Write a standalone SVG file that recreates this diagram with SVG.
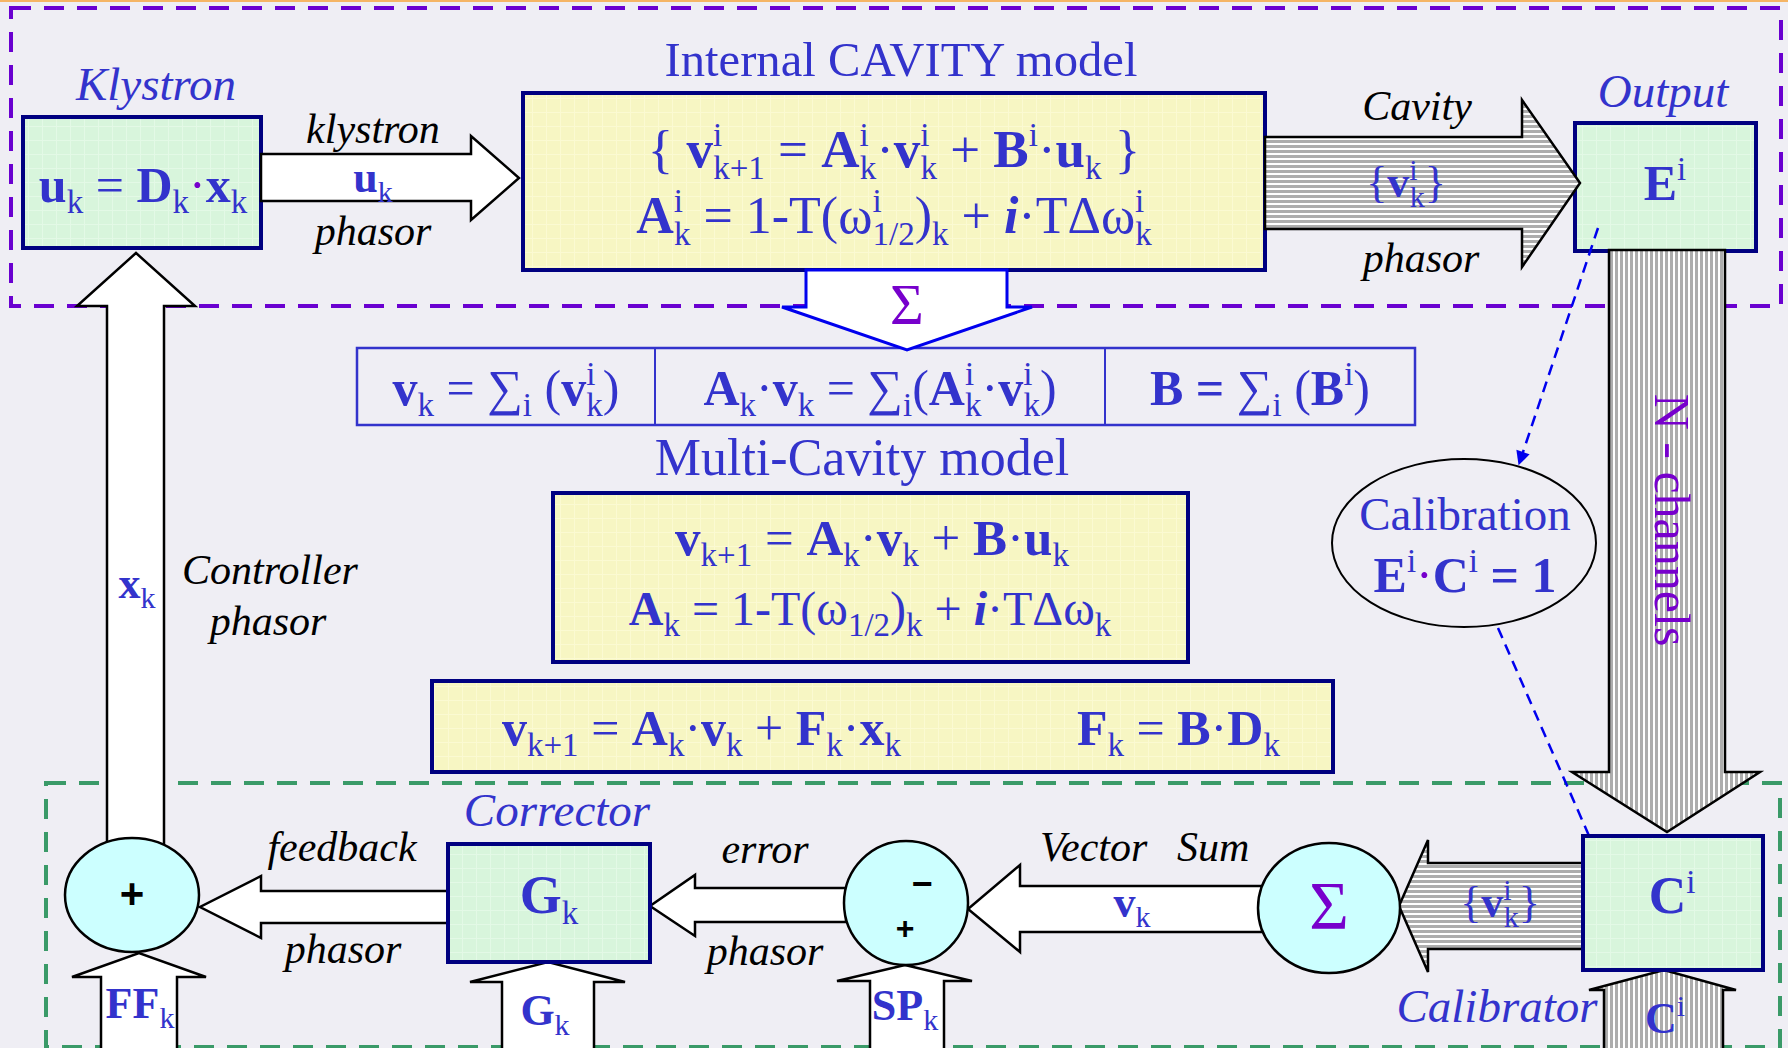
<svg xmlns="http://www.w3.org/2000/svg" width="1788" height="1048" viewBox="0 0 1788 1048">
<style>
.e{font-family:"Liberation Serif","Times New Roman",serif;fill:#3333cc;font-size:50px}
.e44{font-family:"Liberation Serif","Times New Roman",serif;fill:#3333cc;font-size:44px}
.b{font-weight:bold}
.s{font-size:33px;font-weight:normal}
.s2{font-size:30px;font-weight:normal}
.bi{font-weight:bold;font-style:italic}
.hdr{font-family:"Liberation Serif","Times New Roman",serif;font-style:italic;font-size:47px;fill:#3333cc}
.lbl{font-family:"Liberation Serif","Times New Roman",serif;font-style:italic;font-size:42px;fill:#000}
.ttl{font-family:"Liberation Serif","Times New Roman",serif;fill:#3333cc}
.box{stroke:#000080;stroke-width:4}
.circ{fill:#ccffff;stroke:#000;stroke-width:2.5}
.arr{fill:#fff;stroke:#000;stroke-width:2.5;stroke-linejoin:miter}
.harr{fill:url(#hs);stroke:#000;stroke-width:2.5}
.varr{fill:url(#vs);stroke:#000;stroke-width:2.5}
.sgn{font-family:"Liberation Sans",Arial,sans-serif;font-weight:bold;fill:#000}
.pu{fill:#7700cc}
</style>
<defs>
<pattern id="gg" width="14" height="14" patternUnits="userSpaceOnUse"><rect width="14" height="14" fill="#d8f5dc"/><path d="M0 0.5H14M0.5 0V14" stroke="#e3f9e6" stroke-width="1"/></pattern>
<pattern id="gy" width="14" height="14" patternUnits="userSpaceOnUse"><rect width="14" height="14" fill="#f7f6c3"/><path d="M0 0.5H14M0.5 0V14" stroke="#fbfad2" stroke-width="1"/></pattern>
<pattern id="hs" width="10" height="5" patternUnits="userSpaceOnUse"><rect width="10" height="5" fill="#ffffff"/><rect width="10" height="3" fill="#adadad"/></pattern>
<pattern id="vs" width="5" height="10" patternUnits="userSpaceOnUse"><rect width="5" height="10" fill="#ffffff"/><rect width="3" height="10" fill="#adadad"/></pattern>
<marker id="ah" viewBox="0 0 10 10" refX="9" refY="5" markerWidth="16" markerHeight="14" markerUnits="userSpaceOnUse" orient="auto"><path d="M0,0 L10,5 L0,10 z" fill="#0000ee"/></marker>
<marker id="ah2" viewBox="0 0 10 10" refX="9" refY="5" markerWidth="12" markerHeight="12" markerUnits="userSpaceOnUse" orient="auto"><path d="M0,0 L10,5 L0,10 z" fill="#6a8ae0"/></marker>
</defs>
<rect width="1788" height="1048" fill="#efeef4"/>
<rect x="0" y="0" width="1788" height="2" fill="#f5b565"/>

<g id="regions">
<rect x="11" y="8" width="1770" height="298" fill="none" stroke="#6a00d0" stroke-width="4" stroke-dasharray="20 13"/>
<rect x="46" y="783" width="1734" height="264" fill="none" stroke="#3a9a68" stroke-width="4" stroke-dasharray="20 13"/>
</g>

<g id="klystron">
<text class="hdr" x="156" y="100" text-anchor="middle">Klystron</text>
<rect class="box" x="23" y="117" width="238" height="131" fill="url(#gg)"/>
<text class="e" x="143" y="202" text-anchor="middle"><tspan class="b">u</tspan><tspan class="s" dy="11">k</tspan><tspan dy="-11"> = </tspan><tspan class="b">D</tspan><tspan class="s" dy="11">k</tspan><tspan dy="-11" class="pu">·</tspan><tspan class="b">x</tspan><tspan class="s" dy="11">k</tspan></text>
</g>

<g id="cavity">
<text class="ttl" x="901" y="76" font-size="48" text-anchor="middle" textLength="473" lengthAdjust="spacingAndGlyphs">Internal CAVITY model</text>
<rect class="box" x="523" y="93" width="742" height="177" fill="url(#gy)"/>
<text class="e" x="894" y="167" style="font-size:53px" text-anchor="middle">{ <tspan class="b">v</tspan><tspan class="s" dy="-21">i</tspan><tspan class="s" dx="-9" dy="33">k+1</tspan><tspan dy="-12"> = </tspan><tspan class="b">A</tspan><tspan class="s" dy="-21">i</tspan><tspan class="s" dx="-9" dy="33">k</tspan><tspan dy="-12">·</tspan><tspan class="b">v</tspan><tspan class="s" dy="-21">i</tspan><tspan class="s" dx="-9" dy="33">k</tspan><tspan dy="-12"> + </tspan><tspan class="b">B</tspan><tspan class="s" dy="-21">i</tspan><tspan dy="21">·</tspan><tspan class="b">u</tspan><tspan class="s" dy="12">k</tspan><tspan dy="-12"> }</tspan></text>
<text class="e" x="894" y="233" style="font-size:52px" text-anchor="middle"><tspan class="b">A</tspan><tspan class="s" dy="-21">i</tspan><tspan class="s" dx="-9" dy="33">k</tspan><tspan dy="-12"> = 1-T(ω</tspan><tspan class="s" dy="-21">i</tspan><tspan class="s" dx="-9" dy="33">1/2</tspan><tspan dy="-12">)</tspan><tspan class="s" dy="12">k</tspan><tspan dy="-12"> + </tspan><tspan class="bi">i</tspan><tspan>·TΔω</tspan><tspan class="s" dy="-21">i</tspan><tspan class="s" dx="-9" dy="33">k</tspan></text>
</g>

<g id="output">
<text class="hdr" x="1663" y="107" text-anchor="middle">Output</text>
<rect class="box" x="1575" y="123" width="181" height="128" fill="url(#gg)"/>
<text class="e" x="1665" y="200" text-anchor="middle"><tspan class="b">E</tspan><tspan class="s" dy="-20">i</tspan></text>
</g>

<g id="sum-table">
<rect x="357" y="348" width="1058" height="77" fill="none" stroke="#3333cc" stroke-width="2.5"/>
<line x1="655" y1="348" x2="655" y2="425" stroke="#3333cc" stroke-width="2"/>
<line x1="1105" y1="348" x2="1105" y2="425" stroke="#3333cc" stroke-width="2"/>
<text class="e" x="506" y="405" text-anchor="middle"><tspan class="b">v</tspan><tspan class="s" dy="11">k</tspan><tspan dy="-11"> = ∑</tspan><tspan class="s" dy="11">i</tspan><tspan dy="-11"> (</tspan><tspan class="b">v</tspan><tspan class="s" dy="-20">i</tspan><tspan class="s" dx="-9" dy="31">k</tspan><tspan dy="-11">)</tspan></text>
<text class="e" x="880" y="405" text-anchor="middle"><tspan class="b">A</tspan><tspan class="s" dy="11">k</tspan><tspan dy="-11">·</tspan><tspan class="b">v</tspan><tspan class="s" dy="11">k</tspan><tspan dy="-11"> = ∑</tspan><tspan class="s" dy="11">i</tspan><tspan dy="-11">(</tspan><tspan class="b">A</tspan><tspan class="s" dy="-20">i</tspan><tspan class="s" dx="-9" dy="31">k</tspan><tspan dy="-11">·</tspan><tspan class="b">v</tspan><tspan class="s" dy="-20">i</tspan><tspan class="s" dx="-9" dy="31">k</tspan><tspan dy="-11">)</tspan></text>
<text class="e" x="1260" y="405" text-anchor="middle"><tspan class="b">B = </tspan><tspan>∑</tspan><tspan class="s" dy="11">i</tspan><tspan dy="-11"> (</tspan><tspan class="b">B</tspan><tspan class="s" dy="-20">i</tspan><tspan dy="20">)</tspan></text>
</g>

<g id="multi-cavity">
<text class="ttl" x="862" y="475" font-size="52" text-anchor="middle">Multi-Cavity model</text>
<rect class="box" x="553" y="493" width="635" height="169" fill="url(#gy)"/>
<text class="e" x="872" y="555" style="font-size:51px" text-anchor="middle"><tspan class="b">v</tspan><tspan class="s" dy="11">k+1</tspan><tspan dy="-11"> = </tspan><tspan class="b">A</tspan><tspan class="s" dy="11">k</tspan><tspan dy="-11">·</tspan><tspan class="b">v</tspan><tspan class="s" dy="11">k</tspan><tspan dy="-11"> + </tspan><tspan class="b">B</tspan><tspan>·</tspan><tspan class="b">u</tspan><tspan class="s" dy="11">k</tspan></text>
<text class="e" x="870" y="625" style="font-size:48px" text-anchor="middle"><tspan class="b">A</tspan><tspan class="s" dy="11">k</tspan><tspan dy="-11"> = 1-T(ω</tspan><tspan class="s" dy="11">1/2</tspan><tspan dy="-11">)</tspan><tspan class="s" dy="11">k</tspan><tspan dy="-11"> + </tspan><tspan class="bi">i</tspan><tspan>·TΔω</tspan><tspan class="s" dy="11">k</tspan></text>
</g>

<g id="closed-loop">
<rect class="box" x="432" y="681" width="901" height="91" fill="url(#gy)"/>
<text class="e" x="502" y="745"><tspan class="b">v</tspan><tspan class="s" dy="11">k+1</tspan><tspan dy="-11"> = </tspan><tspan class="b">A</tspan><tspan class="s" dy="11">k</tspan><tspan dy="-11">·</tspan><tspan class="b">v</tspan><tspan class="s" dy="11">k</tspan><tspan dy="-11"> + </tspan><tspan class="b">F</tspan><tspan class="s" dy="11">k</tspan><tspan dy="-11">·</tspan><tspan class="b">x</tspan><tspan class="s" dy="11">k</tspan></text>
<text class="e" x="1077" y="745"><tspan class="b">F</tspan><tspan class="s" dy="11">k</tspan><tspan dy="-11"> = </tspan><tspan class="b">B</tspan><tspan>·</tspan><tspan class="b">D</tspan><tspan class="s" dy="11">k</tspan></text>
</g>

<g id="calibration">
<ellipse cx="1464" cy="543" rx="132" ry="84" fill="none" stroke="#000" stroke-width="2"/>
<text class="ttl" x="1465" y="530" font-size="47" text-anchor="middle">Calibration</text>
<text class="e" x="1465" y="592" text-anchor="middle"><tspan class="b">E</tspan><tspan class="s" dy="-20">i</tspan><tspan dy="20" class="pu">·</tspan><tspan class="b">C</tspan><tspan class="s" dy="-20">i</tspan><tspan class="b" dy="20"> = 1</tspan></text>
</g>

<g id="connectors">
<polygon class="arr" points="261,154 471,154 471,136 519,178 471,220 471,201 261,201"/>
<polygon class="harr" points="1265,137 1522,137 1522,100 1580,183 1522,267 1522,229 1265,229"/>
<polygon points="806,270 1007,270 1007,307 1032,307 907,350 782,307 806,307" fill="#fff" stroke="#0000ee" stroke-width="3"/>
<polygon class="varr" points="1609,250 1725,250 1725,772 1760,772 1667,832 1572,772 1609,772"/>
<polygon class="arr" points="107,842 107,306 77,306 136,253 195,306 164,306 164,845"/>
<polygon class="arr" points="448,891 261,891 261,876 200,907 261,938 261,923 448,923"/>
<polygon class="arr" points="846,888 695,888 695,875 650,906 695,936 695,922 846,922"/>
<polygon class="arr" points="1262,886 1020,886 1020,865 968,909 1020,952 1020,932 1262,932"/>
<polygon class="harr" points="1583,863 1428,863 1428,840 1399,906 1428,972 1428,949 1583,949"/>
<polygon class="arr" points="101,1052 101,977 72,977 139,953 206,977 177,977 177,1052"/>
<polygon class="arr" points="502,1052 502,982 470,982 548,962 625,982 594,982 594,1052"/>
<polygon class="arr" points="870,1052 870,981 837,981 905,965 972,981 944,981 944,1052"/>
<polygon class="varr" points="1604,1052 1604,990 1589,990 1664,970 1736,990 1723,990 1723,1052"/>
<line x1="1598" y1="228" x2="1519" y2="464" stroke="#0000ee" stroke-width="2.5" stroke-dasharray="11 7" marker-end="url(#ah)"/>
<line x1="1498" y1="628" x2="1597" y2="854" stroke="#0000ee" stroke-width="2.5" stroke-dasharray="11 7" marker-end="url(#ah2)"/>
<text class="lbl" x="373" y="143" text-anchor="middle">klystron</text>
<text class="e44" x="373" y="192" text-anchor="middle"><tspan class="b">u</tspan><tspan class="s2" dy="10">k</tspan></text>
<text class="lbl" x="373" y="245" text-anchor="middle">phasor</text>
<text class="lbl" x="1417" y="120" text-anchor="middle">Cavity</text>
<text class="e44" x="1406" y="197" text-anchor="middle">{<tspan class="b">v</tspan><tspan class="s2" dy="-17">i</tspan><tspan class="s2" dx="-8" dy="27">k</tspan><tspan dy="-10">}</tspan></text>
<text class="lbl" x="1421" y="272" text-anchor="middle">phasor</text>
<text class="ttl pu" font-size="50" transform="translate(1655,520) rotate(90)" text-anchor="middle">N - channels</text>
<text class="ttl pu" x="907" y="324" font-size="58" text-anchor="middle">Σ</text>
<text class="e44" x="137" y="598" text-anchor="middle"><tspan class="b">x</tspan><tspan class="s2" dy="10">k</tspan></text>
<text class="lbl" x="270" y="584" text-anchor="middle">Controller</text>
<text class="lbl" x="268" y="635" text-anchor="middle">phasor</text>
<text class="lbl" x="342" y="861" text-anchor="middle">feedback</text>
<text class="lbl" x="343" y="963" text-anchor="middle">phasor</text>
<text class="lbl" x="765" y="863" text-anchor="middle">error</text>
<text class="lbl" x="765" y="965" text-anchor="middle">phasor</text>
<text class="lbl" x="1040" y="861">Vector</text>
<text class="lbl" x="1177" y="861">Sum</text>
<text class="e44" x="1132" y="917" text-anchor="middle"><tspan class="b">v</tspan><tspan class="s2" dy="10">k</tspan></text>
<text class="e44" x="1500" y="917" text-anchor="middle">{<tspan class="b">v</tspan><tspan class="s2" dy="-17">i</tspan><tspan class="s2" dx="-8" dy="27">k</tspan><tspan dy="-10">}</tspan></text>
<text class="e44" x="140" y="1018" text-anchor="middle"><tspan class="b">FF</tspan><tspan class="s2" dy="10">k</tspan></text>
<text class="e44" x="545" y="1025" text-anchor="middle"><tspan class="b">G</tspan><tspan class="s2" dy="10">k</tspan></text>
<text class="e44" x="905" y="1020" text-anchor="middle"><tspan class="b">SP</tspan><tspan class="s2" dy="10">k</tspan></text>
<text class="e44" x="1665" y="1033" text-anchor="middle"><tspan class="b">C</tspan><tspan class="s2" dy="-17">i</tspan></text>
</g>

<g id="adder">
<ellipse class="circ" cx="132" cy="895" rx="67" ry="57"/>
<text class="sgn" x="132" y="908" font-size="42" text-anchor="middle">+</text>
</g>

<g id="corrector">
<text class="hdr" x="557" y="826" text-anchor="middle">Corrector</text>
<rect class="box" x="448" y="844" width="202" height="118" fill="url(#gg)"/>
<text class="e" x="549" y="913" style="font-size:54px" text-anchor="middle"><tspan class="b">G</tspan><tspan class="s" dy="11">k</tspan></text>
</g>

<g id="comparator">
<ellipse class="circ" cx="906" cy="903" rx="62" ry="62"/>
<text class="sgn" x="922" y="896" font-size="36" text-anchor="middle">−</text>
<text class="sgn" x="905" y="939" font-size="32" text-anchor="middle">+</text>
</g>

<g id="vector-sum">
<ellipse class="circ" cx="1329" cy="908" rx="71" ry="65"/>
<text class="ttl pu" x="1329" y="928" font-size="68" text-anchor="middle">Σ</text>
</g>

<g id="calibrator">
<rect class="box" x="1583" y="836" width="180" height="134" fill="url(#gg)"/>
<text class="e" x="1672" y="913" style="font-size:52px" text-anchor="middle"><tspan class="b">C</tspan><tspan class="s" dy="-20">i</tspan></text>
<text class="hdr" x="1497" y="1022" text-anchor="middle">Calibrator</text>
</g>
</svg>
